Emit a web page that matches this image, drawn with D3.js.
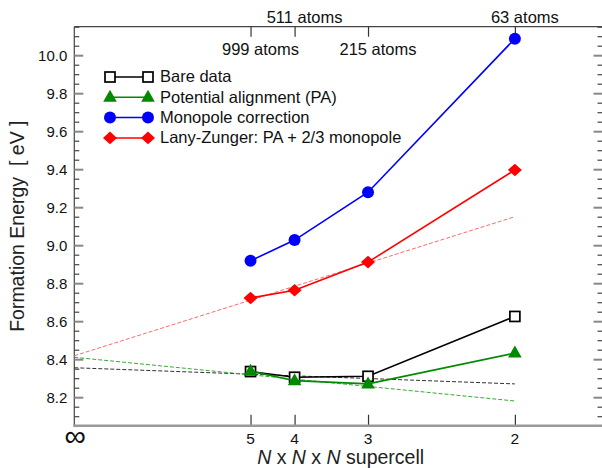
<!DOCTYPE html>
<html>
<head>
<meta charset="utf-8">
<script src="https://cdn.jsdelivr.net/npm/d3@7"></script>
<style>
  body { margin: 0; background: #fff; }
  svg { font-family: 'Liberation Sans', Arial, sans-serif; }
</style>
</head>
<body>
<svg id="chart" width="602" height="468"></svg>
<script>
// supercell sizes (N x N x N) and atoms in each cell
const cells = [5, 4, 3, 2]
const atoms = ['999 atoms', '511 atoms', '215 atoms', '63 atoms']
const atomRow = [1, 0, 1, 0]

// formation energies [eV]
const bare = [8.335, 8.305, 8.31, 8.625]
const pa = [8.337, 8.287, 8.27, 8.432]
const mono = [8.918, 9.027, 9.279, 10.087]
const lz = [8.722, 8.763, 8.911, 9.396]

// linear extrapolations, values at 1/N = 0 and 1/N = 1/2
const fitEnds = [0, 0.5]
const fitBare = [8.355, 8.27]
const fitPA = [8.41, 8.18]
const fitLZ = [8.418, 9.15]

const yTicks = [8.2, 8.4, 8.6, 8.8, 9.0, 9.2, 9.4, 9.6, 9.8, 10.0]

const series = [
  {name: 'Bare data', values: bare, color: '#000', marker: 'square'},
  {name: 'Potential alignment (PA)', values: pa, color: '#008a00', marker: 'triangle'},
  {name: 'Monopole correction', values: mono, color: '#0000ff', marker: 'circle'},
  {name: 'Lany-Zunger: PA + 2/3 monopole', values: lz, color: '#ff0000', marker: 'diamond'}
]
const fits = [
  {values: fitBare, color: '#333'},
  {values: fitPA, color: '#3aa83a'},
  {values: fitLZ, color: '#ff6a6a'}
]

const svg = d3.select('#chart')
const mLeft = 74.3, mRight = 603, mTop = 26.7, mBottom = 425.7

const x = d3.scaleLinear().domain([0, 0.6]).range([mLeft, mRight])
const y = d3.scaleLinear().domain([8.05, 10.15]).range([mBottom, mTop])

// frame
svg.append('line')
  .attr('x1', mLeft).attr('x2', mRight).attr('y1', mTop).attr('y2', mTop)
  .attr('stroke', '#444').attr('stroke-width', 1.2)
svg.append('line')
  .attr('x1', mLeft).attr('x2', mLeft).attr('y1', mTop).attr('y2', mBottom)
  .attr('stroke', '#444').attr('stroke-width', 1.2)

// y ticks, left and right
const minor = d3.range(8.05, 10.151, 0.05).map(v => +v.toFixed(2))
const yAxisL = d3.axisRight(y).tickValues(minor).tickSize(5).tickFormat('')
const yAxisR = d3.axisLeft(y).tickValues(minor).tickSize(5).tickFormat('')
const drawY = (axis, xPos) => {
  const g = svg.append('g').attr('transform', `translate(${xPos},0)`).call(axis)
  g.select('.domain').remove()
  g.selectAll('line').attr('stroke', '#444').attr('stroke-width', 1.2)
  g.selectAll('.tick')
    .filter(d => yTicks.some(t => Math.abs(t - d) < 1e-6))
    .select('line')
    .attr('x2', xPos === mLeft ? 9 : -9)
    .attr('stroke', '#888').attr('stroke-width', 2)
}
drawY(yAxisL, mLeft)
drawY(yAxisR, mRight - 0.5)

svg.append('g').selectAll('text')
  .data(yTicks)
  .enter().append('text')
  .attr('x', mLeft - 7)
  .attr('y', d => y(d))
  .attr('dy', '0.36em')
  .attr('text-anchor', 'end')
  .attr('font-size', 15)
  .attr('fill', '#111')
  .text(d => d.toFixed(1))

// bottom axis
const xAxis = d3.axisTop(x).tickValues(cells.map(n => 1 / n)).tickSize(11).tickFormat('')
const gx = svg.append('g').attr('transform', `translate(0,${mBottom})`).call(xAxis)
gx.select('.domain').remove()
gx.selectAll('line').attr('stroke', '#333').attr('stroke-width', 1.2)
svg.append('line')
  .attr('x1', mLeft - 1).attr('x2', mRight).attr('y1', mBottom).attr('y2', mBottom)
  .attr('stroke', '#999').attr('stroke-width', 2.5)

svg.append('g').selectAll('text')
  .data(cells)
  .enter().append('text')
  .attr('x', d => x(1 / d))
  .attr('y', 444)
  .attr('text-anchor', 'middle')
  .attr('font-size', 15.5)
  .attr('fill', '#111')
  .text(d => d)
svg.append('text')
  .attr('x', x(0) + 1).attr('y', 446)
  .attr('text-anchor', 'middle')
  .attr('font-size', 30)
  .attr('fill', '#111')
  .text('\u221e')

// top axis, atoms count
const topAxis = d3.axisBottom(x).tickValues(cells.map(n => 1 / n)).tickSize(10).tickFormat('')
const gt = svg.append('g').attr('transform', `translate(0,${mTop})`).call(topAxis)
gt.select('.domain').remove()
gt.selectAll('line').attr('stroke', '#333').attr('stroke-width', 1.2)
svg.append('g').selectAll('text')
  .data(cells)
  .enter().append('text')
  .attr('x', d => x(1 / d) + 10)
  .attr('y', (d, i) => atomRow[i] ? 55 : 23)
  .attr('text-anchor', 'middle')
  .attr('font-size', 16.5)
  .attr('fill', '#111')
  .text((d, i) => atoms[i])

// axis titles
svg.append('text')
  .attr('transform', `translate(24,${(mTop + mBottom) / 2}) rotate(-90)`)
  .attr('text-anchor', 'middle')
  .attr('font-size', 19.5)
  .attr('fill', '#222')
  .style('white-space', 'pre')
  .text('Formation Energy  [ eV ]')

const xTitle = svg.append('text')
  .attr('x', (mLeft + mRight) / 2 + 2).attr('y', 464)
  .attr('text-anchor', 'middle')
  .attr('font-size', 19.5)
  .attr('fill', '#222')
xTitle.append('tspan').attr('font-style', 'italic').text('N')
xTitle.append('tspan').text(' x ')
xTitle.append('tspan').attr('font-style', 'italic').text('N')
xTitle.append('tspan').text(' x ')
xTitle.append('tspan').attr('font-style', 'italic').text('N')
xTitle.append('tspan').text(' supercell')

// dashed extrapolations
svg.append('g').selectAll('line')
  .data(fits)
  .enter().append('line')
  .attr('x1', x(fitEnds[0])).attr('x2', x(fitEnds[1]))
  .attr('y1', d => y(d.values[0])).attr('y2', d => y(d.values[1]))
  .attr('stroke', d => d.color)
  .attr('stroke-width', 1)
  .attr('stroke-dasharray', '4,2')

const drawMarker = (sel, marker, color) => {
  if (marker === 'square') {
    sel.append('rect')
      .attr('x', -5).attr('y', -5).attr('width', 10).attr('height', 10)
      .attr('fill', '#fff').attr('stroke', color).attr('stroke-width', 1.7)
  } else if (marker === 'circle') {
    sel.append('circle').attr('r', 6).attr('fill', color)
  } else if (marker === 'triangle') {
    sel.append('path')
      .attr('d', 'M0,-7.5L6.8,4.5L-6.8,4.5Z')
      .attr('fill', color)
  } else {
    sel.append('path')
      .attr('d', 'M0,-6.3L7,0L0,6.3L-7,0Z')
      .attr('fill', color)
  }
}

const line = d3.line()
  .x((d, i) => x(1 / cells[i]))
  .y(d => y(d))

// data series
series.forEach(s => {
  const g = svg.append('g').attr('class', 'series')
  g.append('path')
    .attr('d', line(s.values))
    .attr('fill', 'none')
    .attr('stroke', s.color)
    .attr('stroke-width', 1.6)
  g.selectAll('g.pt')
    .data(s.values)
    .enter().append('g')
    .attr('class', 'pt')
    .attr('transform', (d, i) => `translate(${x(1 / cells[i])},${y(d)})`)
    .each((d, i, ns) => drawMarker(d3.select(ns[i]), s.marker, s.color))
})

// legend
const legend = svg.append('g').attr('transform', 'translate(110,77)')
series.forEach((s, i) => {
  const row = legend.append('g').attr('transform', `translate(0,${i * 20.3})`)
  row.append('line')
    .attr('x1', 0).attr('x2', 38)
    .attr('stroke', s.color).attr('stroke-width', 1.5)
  drawMarker(row.append('g'), s.marker, s.color)
  drawMarker(row.append('g').attr('transform', 'translate(38,0)'), s.marker, s.color)
  row.append('text')
    .attr('x', 50).attr('dy', '0.33em')
    .attr('font-size', 16.5)
    .attr('fill', '#111')
    .text(s.name)
})
</script>
</body>
</html>
